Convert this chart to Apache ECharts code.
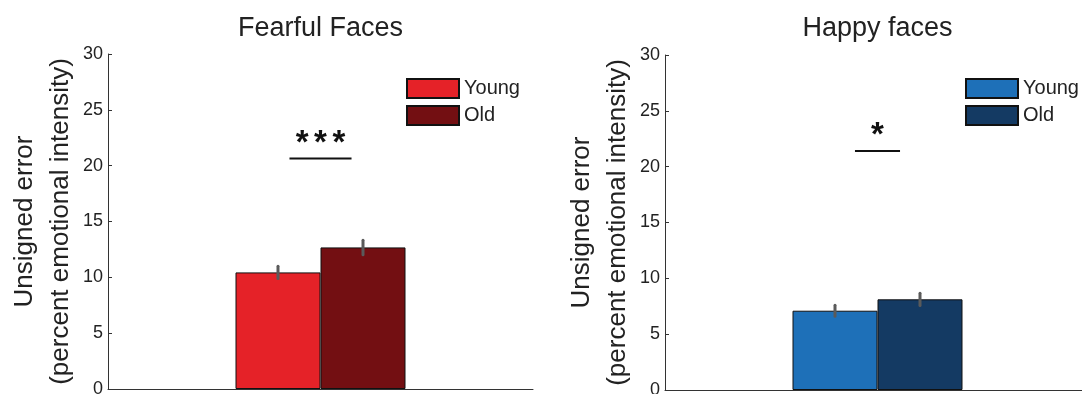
<!DOCTYPE html>
<html>
<head>
<meta charset="utf-8">
<script src="https://cdn.jsdelivr.net/npm/echarts@6/dist/echarts.min.js"></script>
<style>
html,body{margin:0;padding:0;background:#fff;}
#chart{width:1082px;height:394px;}
</style>
</head>
<body>
<div id="chart"></div>
<script>
// ---- data ----
const categories = ['Faces'];
const panelTitles = ['Fearful Faces', 'Happy faces'];
const groupNames = ['Young', 'Old'];
const fearYoung = [10.44];
const fearOld = [12.68];
const fearYoungErr = [0.55];
const fearOldErr = [0.65];
const happyYoung = [7.10];
const happyOld = [8.12];
const happyYoungErr = [0.50];
const happyOldErr = [0.55];
const sigLevels = [20.65, 21.4];
const sigLabels = ['*\u2006*\u2006*', '*'];
const yTicks = { min: 0, max: 30, interval: 5 };
const yAxisName = 'Unsigned error\n(percent emotional intensity)';

// ---- styles ----
const FONT = 'Liberation Sans, Arial, Helvetica, sans-serif';
const TXT = '#222';
const AX = '#333';
const colors = [['#E52228', '#730F12'], ['#1E70B8', '#143A63']];
const grids = [
  { left: 108, top: 54, width: 425, height: 335, outerBoundsMode: 'none', containLabel: false },
  { left: 665, top: 55, width: 425, height: 335, outerBoundsMode: 'none', containLabel: false }
];
const sigHalfWidth = [0.073, 0.053];

const panels = [
  { key: 'Fearful', young: fearYoung, old: fearOld, yErr: fearYoungErr, oErr: fearOldErr },
  { key: 'Happy', young: happyYoung, old: happyOld, yErr: happyYoungErr, oErr: happyOldErr }
];

function errSeries(gi, name, vals, errs, offset) {
  return {
    type: 'custom', xAxisIndex: gi, yAxisIndex: gi, z: 5, silent: true,
    name: name + ' err',
    data: vals.map((v, i) => [i, v, errs[i]]),
    renderItem: function (params, api) {
      const c = api.coord([api.value(0), api.value(1)]);
      const band = api.size([1, 0])[0];
      const x = c[0] + offset * band;
      const t = api.coord([api.value(0), api.value(1) + api.value(2)]);
      const b = api.coord([api.value(0), api.value(1) - api.value(2)]);
      return {
        type: 'line',
        shape: { x1: x, y1: t[1], x2: x, y2: b[1] },
        style: { stroke: '#5a5a5a', lineWidth: 3, lineCap: 'round' }
      };
    }
  };
}

function sigSeries(gi) {
  return {
    type: 'custom', xAxisIndex: gi, yAxisIndex: gi, z: 6, silent: true,
    data: [[0, sigLevels[gi]]],
    renderItem: function (params, api) {
      const c = api.coord([api.value(0), api.value(1)]);
      const band = api.size([1, 0])[0];
      const hw = sigHalfWidth[gi] * band;
      return {
        type: 'group',
        children: [
          { type: 'line', shape: { x1: c[0] - hw, y1: c[1], x2: c[0] + hw, y2: c[1] },
            style: { stroke: '#111', lineWidth: 2 } },
          { type: 'text', x: c[0], y: c[1] - 15,
            style: { text: sigLabels[gi], fill: '#111', font: 'bold 33px ' + FONT,
                     align: 'center', verticalAlign: 'middle' } }
        ]
      };
    }
  };
}

const series = [];
const legends = [];
const titles = [];
const xAxes = [];
const yAxes = [];
panels.forEach((p, gi) => {
  const yn = p.key + ' ' + groupNames[0];
  const on = p.key + ' ' + groupNames[1];
  series.push({
    type: 'bar', name: yn, xAxisIndex: gi, yAxisIndex: gi, data: p.young,
    barWidth: '20%', barGap: '0%',
    itemStyle: { color: colors[gi][0], borderColor: '#111', borderWidth: 1 }
  });
  series.push({
    type: 'bar', name: on, xAxisIndex: gi, yAxisIndex: gi, data: p.old,
    barWidth: '20%', barGap: '0%',
    itemStyle: { color: colors[gi][1], borderColor: '#111', borderWidth: 1 }
  });
  series.push(errSeries(gi, yn, p.young, p.yErr, -0.1));
  series.push(errSeries(gi, on, p.old, p.oErr, 0.1));
  series.push(sigSeries(gi));
  legends.push({
    data: [yn, on], orient: 'vertical', icon: 'rect',
    left: gi === 0 ? 406 : 965, top: 78,
    itemWidth: 52, itemHeight: 19, itemGap: 6, padding: 0,
    formatter: n => n.split(' ')[1],
    textStyle: { fontSize: 20, fontFamily: FONT, color: TXT, lineHeight: 19 },
    selectedMode: false
  });
  titles.push({
    text: panelTitles[gi],
    left: grids[gi].left + grids[gi].width / 2, top: 15, textAlign: 'center', padding: 0,
    textStyle: { fontSize: 27, fontWeight: 'normal', fontFamily: FONT, color: TXT }
  });
  xAxes.push({
    type: 'category', gridIndex: gi, data: categories,
    axisLine: { show: true, lineStyle: { color: AX, width: 1 } },
    axisTick: { show: false }, axisLabel: { show: false }, splitLine: { show: false }
  });
  yAxes.push({
    type: 'value', gridIndex: gi, min: yTicks.min, max: yTicks.max, interval: yTicks.interval,
    name: yAxisName, nameLocation: 'middle', nameRotate: 90, nameGap: 28,
    nameTextStyle: { fontSize: 26, fontFamily: FONT, color: TXT, lineHeight: 36 },
    axisLine: { show: true, lineStyle: { color: AX, width: 1 } },
    axisTick: { show: true, inside: true, length: 4, lineStyle: { color: AX } },
    axisLabel: { fontSize: 18, fontFamily: FONT, color: TXT, margin: 5 },
    splitLine: { show: false }
  });
});

const chart = echarts.init(document.getElementById('chart'), null, { renderer: 'canvas' });
chart.setOption({
  animation: false,
  backgroundColor: '#fff',
  title: titles,
  legend: legends,
  grid: grids,
  xAxis: xAxes,
  yAxis: yAxes,
  series: series
});
</script>
</body>
</html>
